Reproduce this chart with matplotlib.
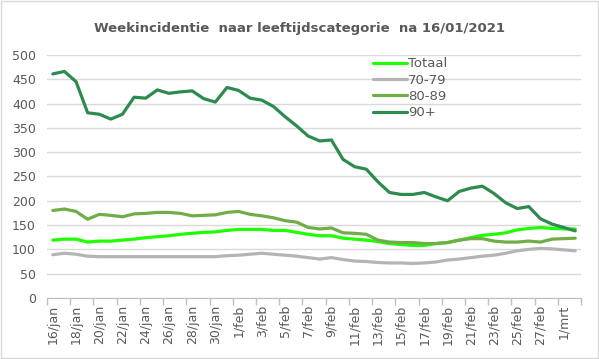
import matplotlib
matplotlib.use("Agg")
import matplotlib.pyplot as plt
from matplotlib.patches import Rectangle

# daily values 16/jan .. 2/mrt (46 days)
totaal = [119, 121, 121, 115, 117, 117, 119, 121, 124, 126, 128, 131, 133, 135, 136, 139,
          141, 141, 141, 139, 139, 135, 131, 128, 128, 123, 121, 119, 116, 112, 110, 108,
          108, 112, 114, 119, 124, 129, 131, 134, 140, 143, 145, 143, 142, 142]
age_70_79 = [89, 92, 90, 86, 85, 85, 85, 85, 85, 85, 85, 85, 85, 85, 85, 87,
             88, 90, 92, 90, 88, 86, 83, 80, 83, 79, 76, 75, 73, 72, 72, 71,
             72, 74, 78, 80, 83, 86, 88, 92, 97, 100, 102, 101, 99, 97]
age_80_89 = [180, 183, 178, 162, 172, 170, 167, 173, 174, 176, 176, 174, 169, 170, 171, 176,
             178, 172, 169, 165, 159, 156, 145, 142, 144, 134, 133, 131, 119, 115, 114, 114,
             112, 112, 114, 119, 122, 122, 117, 115, 115, 117, 115, 121, 122, 123]
age_90 = [461, 466, 445, 381, 378, 368, 378, 413, 411, 428, 421, 424, 426, 410, 403, 433,
          427, 411, 407, 394, 373, 354, 333, 323, 325, 285, 270, 265, 239, 217, 213, 213,
          217, 208, 200, 219, 226, 230, 215, 196, 184, 188, 163, 152, 145, 138]

tick_labels = ['16/jan', '18/jan', '20/jan', '22/jan', '24/jan', '26/jan', '28/jan', '30/jan',
               '1/feb', '3/feb', '5/feb', '7/feb', '9/feb', '11/feb', '13/feb', '15/feb',
               '17/feb', '19/feb', '21/feb', '23/feb', '25/feb', '27/feb', '1/mrt']

series = [('Totaal', totaal, '#1EFF00'),
          ('70-79', age_70_79, '#B4B4B4'),
          ('80-89', age_80_89, '#70AD47'),
          ('90+', age_90, '#2E8B50')]

txt = '#595959'
fig = plt.figure(figsize=(5.99, 3.59), dpi=100)
ax = fig.add_axes([0.0785, 0.170, 0.8915, 0.677])

x = list(range(len(totaal)))
for name, vals, col in series:
    ax.plot(x, vals, color=col, linewidth=2.3, label=name, solid_capstyle='round')

ax.set_xlim(-0.5, len(x) - 0.5)
ax.set_ylim(0, 500)
ax.set_yticks(range(0, 501, 50))
ax.grid(axis='y', color='#D9D9D9', linewidth=1)
ax.set_axisbelow(True)

# tick marks on category boundaries, labels on every second category
ax.set_xticks([i - 0.5 for i in range(0, len(x) + 1, 2)])
ax.set_xticklabels([])
ax.set_xticks(list(range(0, len(x), 2)), minor=True)
ax.set_xticklabels(tick_labels, minor=True, rotation=90, fontsize=9, color=txt)
ax.tick_params(axis='x', which='major', length=5, color='#BFBFBF', width=1)
ax.tick_params(axis='x', which='minor', length=0, pad=5)
ax.tick_params(axis='y', length=0, labelsize=9, labelcolor=txt, pad=8)

for s in ['top', 'right', 'left']:
    ax.spines[s].set_visible(False)
ax.spines['bottom'].set_color('#BFBFBF')

fig.suptitle('Weekincidentie  naar leeftijdscategorie  na 16/01/2021', x=0.5, y=0.94,
             fontsize=9.5, fontweight='bold', color=txt)

leg = ax.legend(loc='upper left', bbox_to_anchor=(0.6, 1.012), frameon=False, fontsize=9.5,
                handlelength=2.6, handletextpad=0.1, labelspacing=0.25, borderaxespad=0)
for t in leg.get_texts():
    t.set_color(txt)

fig.patches.append(Rectangle((0.002, 0.003), 0.996, 0.994, transform=fig.transFigure,
                             fill=False, edgecolor='#D9D9D9', linewidth=1))

fig.savefig('out.png', dpi=100)
